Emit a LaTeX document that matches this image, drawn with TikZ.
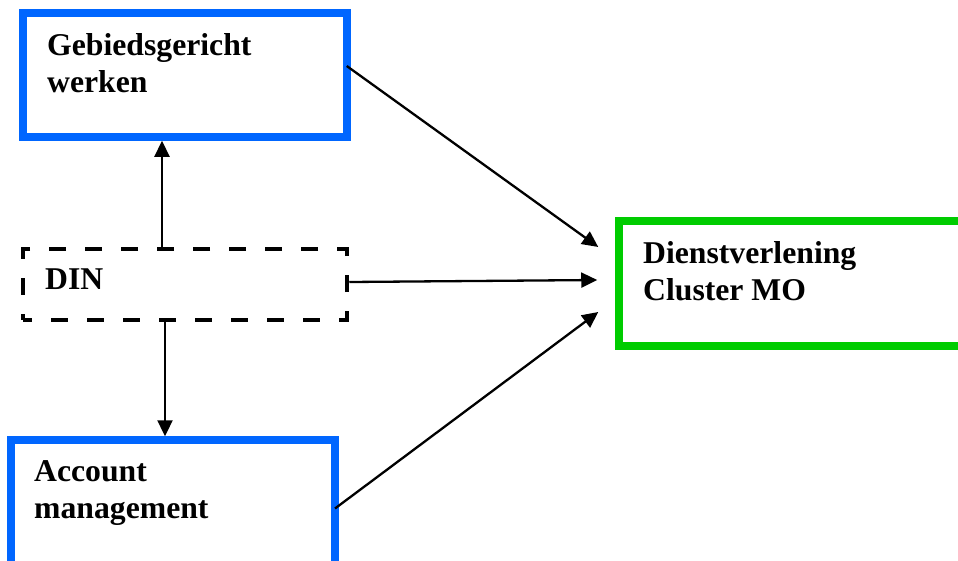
\documentclass[tikz,border=0pt]{standalone}
\usepackage{fontspec}
\setmainfont{Liberation Serif}
\usetikzlibrary{arrows.meta,calc}
\definecolor{boxblue}{RGB}{0,102,255}
\definecolor{boxgreen}{RGB}{0,204,0}
\begin{document}
\begin{tikzpicture}[x=1pt,y=-1pt,
  bluebox/.style={draw=boxblue,line width=7.5pt,rectangle,inner sep=0pt},
  greenbox/.style={draw=boxgreen,line width=7.5pt,rectangle,inner sep=0pt},
  dashbox/.style={draw=black,line width=4.5pt,rectangle,inner sep=0pt,
    dash pattern=on 17pt off 19pt,dash phase=8pt},
  lbl/.style={anchor=north west,inner sep=0pt,align=left,
    font=\fontsize{31.7}{37}\selectfont\bfseries},
  conn/.style={line width=2.3pt,-{Triangle[length=16pt,width=15pt]}}]
\clip (0,0) rectangle (958,560);
\useasboundingbox (0,0) rectangle (958,560);

% boxes
\node[bluebox,minimum width=324pt,minimum height=124pt] (gw) at (185,75) {};
\node[dashbox,minimum width=324pt,minimum height=71pt] (din) at (185,284.5) {};
\node[bluebox,minimum width=324pt,minimum height=140pt] (am) at (173,510) {};
\node[greenbox,minimum width=343pt,minimum height=125pt] (dv) at (790.5,283.5) {};

% labels
\node[lbl] (gwt) at (47,33.5) {Gebiedsgericht\\werken};
\node[lbl] (dint) at (45,269) {DIN};
\node[lbl] (amt) at (34,460.5) {Account\\management};
\node[lbl] (dvt) at (643,241.5) {Dienstverlening\\Cluster MO};

% connector end points
\coordinate (upfoot) at ($(din.north)+(-23,0)$);
\coordinate (downfoot) at ($(din.south)+(-20,0)$);
\coordinate (midfoot) at ($(din.east)+(0,-2.5)$);
\coordinate (gwfoot) at ($(gw.east)+(-4,-9)$);
\coordinate (amfoot) at (335,508.5);
\coordinate (intop) at ($(dv.west)+(-17,-36.5)$);
\coordinate (inmid) at ($(dv.west)+(-18,-3.5)$);
\coordinate (inbot) at ($(dv.west)+(-17,28.5)$);

% connectors
\draw[conn] (upfoot) -- (upfoot |- gw.south);
\draw[conn] (downfoot) -- (downfoot |- am.north);
\draw[conn] (midfoot) -- (inmid);
\draw[conn] (gwfoot) -- (intop);
\draw[conn] (amfoot) -- (inbot);
\end{tikzpicture}
\end{document}
